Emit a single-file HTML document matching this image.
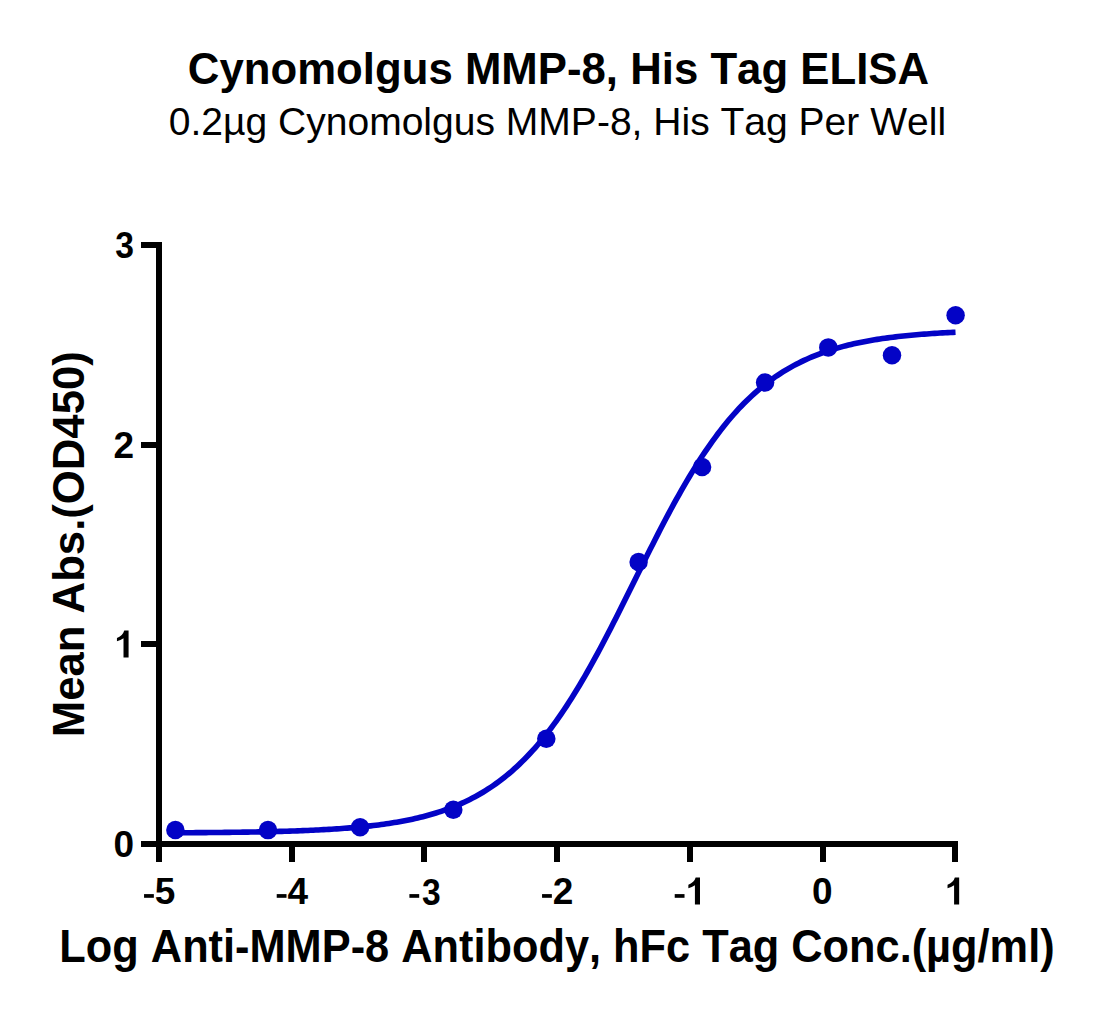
<!DOCTYPE html>
<html><head><meta charset="utf-8"><style>
html,body{margin:0;padding:0;background:#fff;}
svg{display:block;}
text{font-family:"Liberation Sans",sans-serif;fill:#000;font-kerning:none;}
</style></head><body>
<svg width="1097" height="1017" viewBox="0 0 1097 1017">
<rect width="1097" height="1017" fill="#fff"/>
<text transform="matrix(1,0,0,1.023,0,-1.932)" x="558.5" y="84.0" text-anchor="middle" font-size="43.75" font-weight="bold">Cynomolgus MMP-8, His Tag ELISA</text>
<text x="557.4" y="134.5" text-anchor="middle" font-size="39.04">0.2µg Cynomolgus MMP-8, His Tag Per Well</text>
<g fill="#000">
<rect x="156" y="242" width="6" height="605"/>
<rect x="141" y="841" width="817" height="6"/>
<rect x="156" y="841" width="6" height="21"/>
<rect x="289" y="841" width="6" height="21"/>
<rect x="421" y="841" width="6" height="21"/>
<rect x="554" y="841" width="6" height="21"/>
<rect x="687" y="841" width="6" height="21"/>
<rect x="820" y="841" width="6" height="21"/>
<rect x="952" y="841" width="6" height="21"/>
<rect x="141" y="841" width="18" height="6"/>
<rect x="141" y="641" width="18" height="6"/>
<rect x="141" y="442" width="18" height="6"/>
<rect x="141" y="242" width="18" height="6"/>
</g>
<g font-size="37" font-weight="bold" fill="#000"><rect x="144.05" y="894.1" width="9.8" height="3.7"/><text transform="matrix(1,0,0,1.023,0,-20.803)" x="154.87" y="904.50">5</text><rect x="276.72" y="894.1" width="9.8" height="3.7"/><text transform="matrix(1,0,0,1.023,0,-20.803)" x="287.54" y="904.50">4</text><rect x="409.39" y="894.1" width="9.8" height="3.7"/><text transform="translate(439.41,904.50) scale(0.91,1.023)" x="-19.20" y="0">3</text><rect x="542.05" y="894.1" width="9.8" height="3.7"/><text transform="matrix(1,0,0,1.023,0,-20.803)" x="552.87" y="904.50">2</text><rect x="674.72" y="894.1" width="9.8" height="3.7"/><path transform="translate(685.54,904.50) scale(0.018066,-0.018482)" d="M800 0L519 0L519 1045Q360 935 156 880L156 1065Q300 1115 420 1225Q520 1325 560 1466L800 1466Z"/><text transform="matrix(1,0,0,1.023,0,-20.803)" x="812.05" y="904.50">0</text><path transform="translate(944.71,904.50) scale(0.018066,-0.018482)" d="M800 0L519 0L519 1045Q360 935 156 880L156 1065Q300 1115 420 1225Q520 1325 560 1466L800 1466Z"/>
<text transform="matrix(1,0,0,1.023,0,-19.706)" x="113.43" y="856.80">0</text><path transform="translate(114.13,657.60) scale(0.018066,-0.018482)" d="M800 0L519 0L519 1045Q360 935 156 880L156 1065Q300 1115 420 1225Q520 1325 560 1466L800 1466Z"/><text transform="matrix(1,0,0,1.023,0,-10.529)" x="113.43" y="457.80">2</text><text transform="translate(132.63,257.80) scale(0.91,1.023)" x="-19.20" y="0">3</text></g>
<text transform="matrix(1,0,0,1.08,0,-76.960)" x="557" y="962.0" text-anchor="middle" font-size="43.35" font-weight="bold">Log Anti-MMP-8 Antibody, hFc Tag Conc.(µg/ml)</text>
<text transform="translate(84.3,544.2) rotate(-90) scale(1,1.016)" text-anchor="middle" font-size="43.69" font-weight="bold">Mean Abs.(OD450)</text>
<polyline points="174.84,832.78 177.45,832.77 180.06,832.76 182.67,832.74 185.28,832.73 187.90,832.71 190.51,832.69 193.12,832.68 195.73,832.66 198.34,832.64 200.95,832.62 203.56,832.60 206.17,832.58 208.78,832.55 211.39,832.53 214.01,832.51 216.62,832.48 219.23,832.45 221.84,832.43 224.45,832.40 227.06,832.37 229.67,832.34 232.28,832.30 234.89,832.27 237.50,832.23 240.12,832.20 242.73,832.16 245.34,832.12 247.95,832.08 250.56,832.03 253.17,831.99 255.78,831.94 258.39,831.89 261.00,831.84 263.61,831.78 266.23,831.73 268.84,831.67 271.45,831.61 274.06,831.55 276.67,831.48 279.28,831.41 281.89,831.34 284.50,831.26 287.11,831.18 289.72,831.10 292.34,831.02 294.95,830.93 297.56,830.84 300.17,830.74 302.78,830.64 305.39,830.53 308.00,830.43 310.61,830.31 313.22,830.19 315.83,830.07 318.45,829.94 321.06,829.81 323.67,829.67 326.28,829.52 328.89,829.37 331.50,829.21 334.11,829.05 336.72,828.87 339.33,828.69 341.94,828.51 344.56,828.31 347.17,828.11 349.78,827.90 352.39,827.68 355.00,827.45 357.61,827.21 360.22,826.96 362.83,826.70 365.44,826.43 368.05,826.15 370.67,825.86 373.28,825.55 375.89,825.24 378.50,824.91 381.11,824.56 383.72,824.20 386.33,823.83 388.94,823.44 391.55,823.04 394.16,822.61 396.78,822.18 399.39,821.72 402.00,821.24 404.61,820.75 407.22,820.23 409.83,819.70 412.44,819.14 415.05,818.56 417.66,817.96 420.27,817.33 422.89,816.68 425.50,816.00 428.11,815.29 430.72,814.56 433.33,813.80 435.94,813.01 438.55,812.18 441.16,811.33 443.77,810.44 446.38,809.51 449.00,808.55 451.61,807.56 454.22,806.52 456.83,805.45 459.44,804.33 462.05,803.18 464.66,801.98 467.27,800.73 469.88,799.44 472.49,798.10 475.11,796.71 477.72,795.27 480.33,793.78 482.94,792.24 485.55,790.64 488.16,788.98 490.77,787.26 493.38,785.49 495.99,783.65 498.60,781.75 501.22,779.79 503.83,777.76 506.44,775.67 509.05,773.50 511.66,771.26 514.27,768.96 516.88,766.58 519.49,764.12 522.10,761.59 524.71,758.98 527.33,756.29 529.94,753.53 532.55,750.68 535.16,747.76 537.77,744.75 540.38,741.65 542.99,738.48 545.60,735.22 548.21,731.87 550.83,728.44 553.44,724.93 556.05,721.33 558.66,717.65 561.27,713.88 563.88,710.02 566.49,706.09 569.10,702.07 571.71,697.97 574.32,693.79 576.94,689.53 579.55,685.19 582.16,680.78 584.77,676.29 587.38,671.74 589.99,667.11 592.60,662.42 595.21,657.66 597.82,652.84 600.43,647.97 603.05,643.04 605.66,638.06 608.27,633.03 610.88,627.96 613.49,622.85 616.10,617.70 618.71,612.52 621.32,607.32 623.93,602.09 626.54,596.84 629.16,591.58 631.77,586.32 634.38,581.04 636.99,575.77 639.60,570.50 642.21,565.24 644.82,560.00 647.43,554.77 650.04,549.57 652.65,544.39 655.27,539.25 657.88,534.14 660.49,529.07 663.10,524.05 665.71,519.07 668.32,514.14 670.93,509.27 673.54,504.46 676.15,499.71 678.76,495.02 681.38,490.40 683.99,485.84 686.60,481.36 689.21,476.96 691.82,472.62 694.43,468.37 697.04,464.19 699.65,460.10 702.26,456.09 704.87,452.16 707.49,448.31 710.10,444.55 712.71,440.87 715.32,437.27 717.93,433.77 720.54,430.34 723.15,427.00 725.76,423.75 728.37,420.58 730.98,417.49 733.60,414.49 736.21,411.57 738.82,408.73 741.43,405.97 744.04,403.29 746.65,400.68 749.26,398.16 751.87,395.71 754.48,393.33 757.09,391.03 759.71,388.80 762.32,386.64 764.93,384.54 767.54,382.52 770.15,380.56 772.76,378.67 775.37,376.83 777.98,375.06 780.59,373.35 783.20,371.70 785.82,370.10 788.43,368.56 791.04,367.07 793.65,365.64 796.26,364.25 798.87,362.92 801.48,361.63 804.09,360.39 806.70,359.19 809.31,358.04 811.93,356.92 814.54,355.85 817.15,354.82 819.76,353.83 822.37,352.87 824.98,351.95 827.59,351.06 830.20,350.21 832.81,349.39 835.42,348.60 838.04,347.84 840.65,347.10 843.26,346.40 845.87,345.72 848.48,345.07 851.09,344.45 853.70,343.85 856.31,343.27 858.92,342.71 861.53,342.18 864.15,341.66 866.76,341.17 869.37,340.70 871.98,340.24 874.59,339.80 877.20,339.38 879.81,338.98 882.42,338.59 885.03,338.22 887.64,337.86 890.26,337.52 892.87,337.19 895.48,336.87 898.09,336.57 900.70,336.28 903.31,336.00 905.92,335.73 908.53,335.47 911.14,335.22 913.75,334.98 916.37,334.75 918.98,334.53 921.59,334.32 924.20,334.12 926.81,333.93 929.42,333.74 932.03,333.56 934.64,333.39 937.25,333.23 939.86,333.07 942.48,332.92 945.09,332.77 947.70,332.63 950.31,332.50 952.92,332.37 955.53,332.25" fill="none" stroke="#0303c6" stroke-width="5.6" stroke-linejoin="round"/>
<g fill="#0303c6">
<circle cx="175.4" cy="830.0" r="9.25"/>
<circle cx="268.0" cy="830.1" r="9.25"/>
<circle cx="360.1" cy="827.3" r="9.25"/>
<circle cx="453.3" cy="809.7" r="9.25"/>
<circle cx="546.3" cy="738.8" r="9.25"/>
<circle cx="638.6" cy="562.0" r="9.25"/>
<circle cx="702.1" cy="467.0" r="9.25"/>
<circle cx="765.1" cy="382.5" r="9.25"/>
<circle cx="828.3" cy="347.4" r="9.25"/>
<circle cx="892.0" cy="355.3" r="9.25"/>
<circle cx="955.6" cy="315.3" r="9.25"/>
</g>
</svg>
</body></html>
